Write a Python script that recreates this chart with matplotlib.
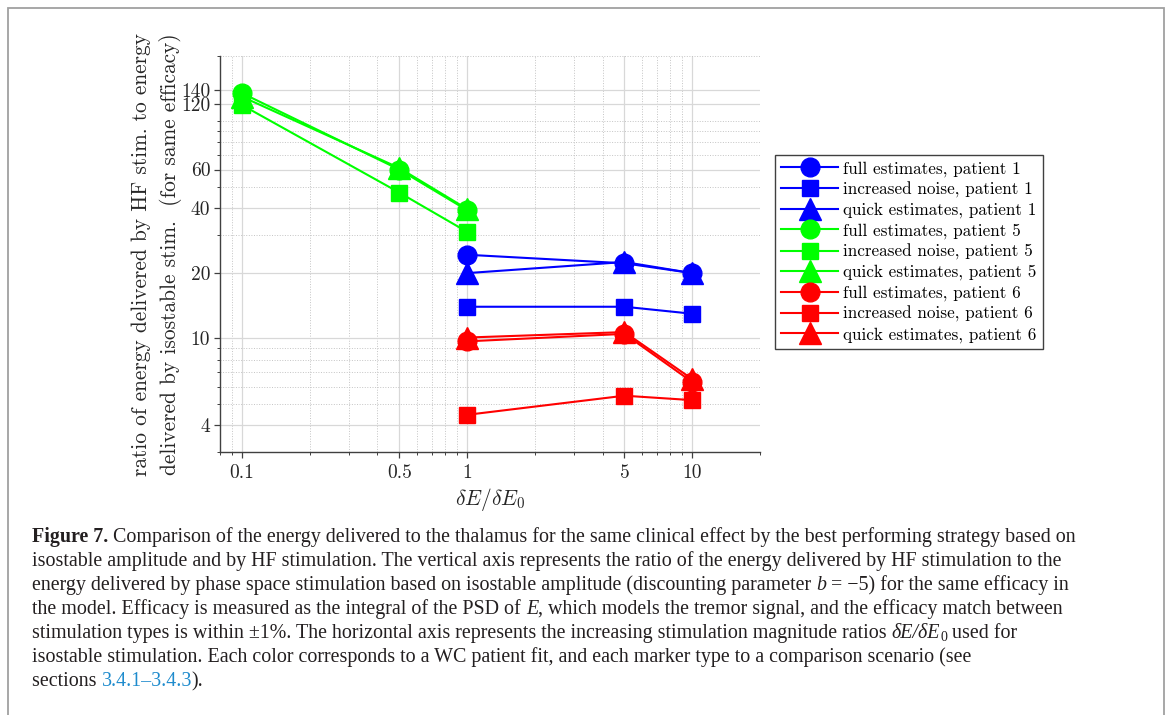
import matplotlib
matplotlib.use("Agg")
import numpy as np
import matplotlib.pyplot as plt
from matplotlib.patches import Rectangle
from matplotlib.ticker import FixedLocator, LogLocator, NullFormatter
from matplotlib.transforms import IdentityTransform

# values
x_patient5 = [0.1, 0.5, 1]
x_patient16 = [1, 5, 10]

full_p1 = [24.3, 22.2, 20.0]
noise_p1 = [14.0, 14.0, 13.0]
quick_p1 = [20.0, 22.5, 20.0]

full_p5 = [135, 60, 39]
noise_p5 = [119, 47, 31]
quick_p5 = [130, 61, 39.5]

full_p6 = [9.7, 10.5, 6.3]
noise_p6 = [4.45, 5.45, 5.2]
quick_p6 = [10.1, 10.7, 6.5]

x_ticks = [0.1, 0.5, 1, 5, 10]
x_tick_labels = ["0.1", "0.5", "1", "5", "10"]
y_ticks = [4, 10, 20, 40, 60, 120, 140]
y_tick_labels = ["4", "10", "20", "40", "60", "120", "140"]

plt.rcParams["font.family"] = "cmr10"
plt.rcParams["mathtext.fontset"] = "cm"
plt.rcParams["axes.unicode_minus"] = False

W, H = 1166, 715
fig = plt.figure(figsize=(W / 100, H / 100), dpi=100)
fig.patch.set_facecolor("white")

# thin page frame
fig.add_artist(Rectangle((8, -5), 1156, 715 - 8 + 5, transform=IdentityTransform(),
                         fill=False, edgecolor="#a0a0a0", linewidth=1.3))

ax = fig.add_axes([220 / W, 1 - 452 / H, 540 / W, 396 / H])
ax.set_xscale("log")
ax.set_yscale("log")

series = [
    (x_patient16, full_p1, "#0000ff", "o", 13.5, "full estimates, patient 1"),
    (x_patient16, noise_p1, "#0000ff", "s", 11.5, "increased noise, patient 1"),
    (x_patient16, quick_p1, "#0000ff", "^", 16.5, "quick estimates, patient 1"),
    (x_patient5, full_p5, "#00ff00", "o", 13.5, "full estimates, patient 5"),
    (x_patient5, noise_p5, "#00ff00", "s", 11.5, "increased noise, patient 5"),
    (x_patient5, quick_p5, "#00ff00", "^", 16.5, "quick estimates, patient 5"),
    (x_patient16, full_p6, "#ff0000", "o", 13.5, "full estimates, patient 6"),
    (x_patient16, noise_p6, "#ff0000", "s", 11.5, "increased noise, patient 6"),
    (x_patient16, quick_p6, "#ff0000", "^", 16.5, "quick estimates, patient 6"),
]
handles = []
for xs, ys, color, marker, ms, label in series:
    h, = ax.plot(xs, ys, color=color, marker=marker, markersize=ms,
                 markerfacecolor=color, markeredgecolor=color,
                 linewidth=1.5, label=label, clip_on=False, zorder=3)
    handles.append(h)

ax.set_xlim(0.08, 20)
ax.set_ylim(3, 200)

ax.xaxis.set_major_locator(FixedLocator(x_ticks))
ax.set_xticklabels(x_tick_labels)
ax.yaxis.set_major_locator(FixedLocator(y_ticks))
ax.set_yticklabels(y_tick_labels)
ax.xaxis.set_minor_locator(LogLocator(base=10, subs=np.arange(1, 10), numticks=20))
ax.yaxis.set_minor_locator(LogLocator(base=10, subs=np.arange(1, 10), numticks=20))
ax.xaxis.set_minor_formatter(NullFormatter())
ax.yaxis.set_minor_formatter(NullFormatter())

ax.grid(True, which="major", color="#d8d8d8", linewidth=0.9, linestyle="-")
ax.grid(True, which="minor", color="#c4c4c4", linewidth=0.7, linestyle=":")
ax.set_axisbelow(True)

for side in ("top", "right"):
    ax.spines[side].set_visible(False)
for side in ("left", "bottom"):
    ax.spines[side].set_color("#404040")
    ax.spines[side].set_linewidth(1.0)

ax.tick_params(which="major", direction="out", length=4, width=0.9, color="#404040",
               labelsize=14, labelcolor="#262626", pad=3)
ax.tick_params(which="minor", direction="out", length=2, width=0.7, color="#404040")
ax.tick_params(axis="x", which="major", pad=5)

ax.set_ylabel("ratio of energy delivered by HF stim. to energy\n"
              "delivered by isostable stim.  (for same efficacy)",
              fontsize=15.4, color="#262626", linespacing=1.47)
ax.yaxis.set_label_coords(-0.071, 0.5)
ax.set_xlabel(r"$\delta E/\delta E_0$", fontsize=15.5, color="#262626")
ax.xaxis.set_label_coords(0.5, -0.085)

leg = ax.legend(handles=handles, loc="upper left",
                bbox_to_anchor=(775 / W, 1 - 155 / H), bbox_transform=fig.transFigure,
                borderaxespad=0, fontsize=12.3, handlelength=3.35, handletextpad=0.3,
                labelspacing=0.28, borderpad=0.35, fancybox=False, framealpha=1,
                edgecolor="#404040")
leg.get_frame().set_linewidth(1.0)

# caption, drawn piece by piece so bold / italic / link runs sit inline
caption_lines = [
    [("Figure 7.", "b"), (" Comparison of the energy delivered to the thalamus for the same clinical effect by the best performing strategy based on", "r")],
    [("isostable amplitude and by HF stimulation. The vertical axis represents the ratio of the energy delivered by HF stimulation to the", "r")],
    [("energy delivered by phase space stimulation based on isostable amplitude (discounting parameter ", "r"), ("b", "i"), (" = \u22125) for the same efficacy in", "r")],
    [("the model. Efficacy is measured as the integral of the PSD of ", "r"), ("E", "i"), (", which models the tremor signal, and the efficacy match between", "r")],
    [("stimulation types is within \u00b11%. The horizontal axis represents the increasing stimulation magnitude ratios ", "r"), ("\u03b4E/\u03b4E", "i"), ("0", "sub"), (" used for", "r")],
    [("isostable stimulation. Each color corresponds to a WC patient fit, and each marker type to a comparison scenario (see", "r")],
    [("sections ", "r"), ("3.4.1\u20133.4.3", "link"), (").", "r")],
]
cap_size = 14.4
cap_color = "#231f20"
styles = {
    "r": dict(fontsize=cap_size, color=cap_color),
    "b": dict(fontsize=cap_size, color=cap_color, fontweight="bold"),
    "i": dict(fontsize=cap_size, color=cap_color, fontstyle="italic"),
    "sub": dict(fontsize=cap_size * 0.7, color=cap_color),
    "link": dict(fontsize=cap_size, color="#1e8bcd"),
}

renderer = fig.canvas.get_renderer()


def run_width(s, kw):
    # bars on both sides keep leading / trailing spaces in the measurement
    a = fig.text(0, 0, "|" + s + "|", family="Liberation Serif", **kw)
    b = fig.text(0, 0, "||", family="Liberation Serif", **kw)
    w = a.get_window_extent(renderer).width - b.get_window_extent(renderer).width
    a.remove()
    b.remove()
    return w


baseline0 = H - 542
for i, line in enumerate(caption_lines):
    x = 32
    y = baseline0 - 24 * i
    for s, st in line:
        kw = styles[st]
        dy = -3 if st == "sub" else 0
        fig.text(x, y + dy, s, transform=IdentityTransform(), family="Liberation Serif",
                 va="baseline", ha="left", **kw)
        x += run_width(s, kw)

fig.savefig("out.png", dpi=100, facecolor="white")
